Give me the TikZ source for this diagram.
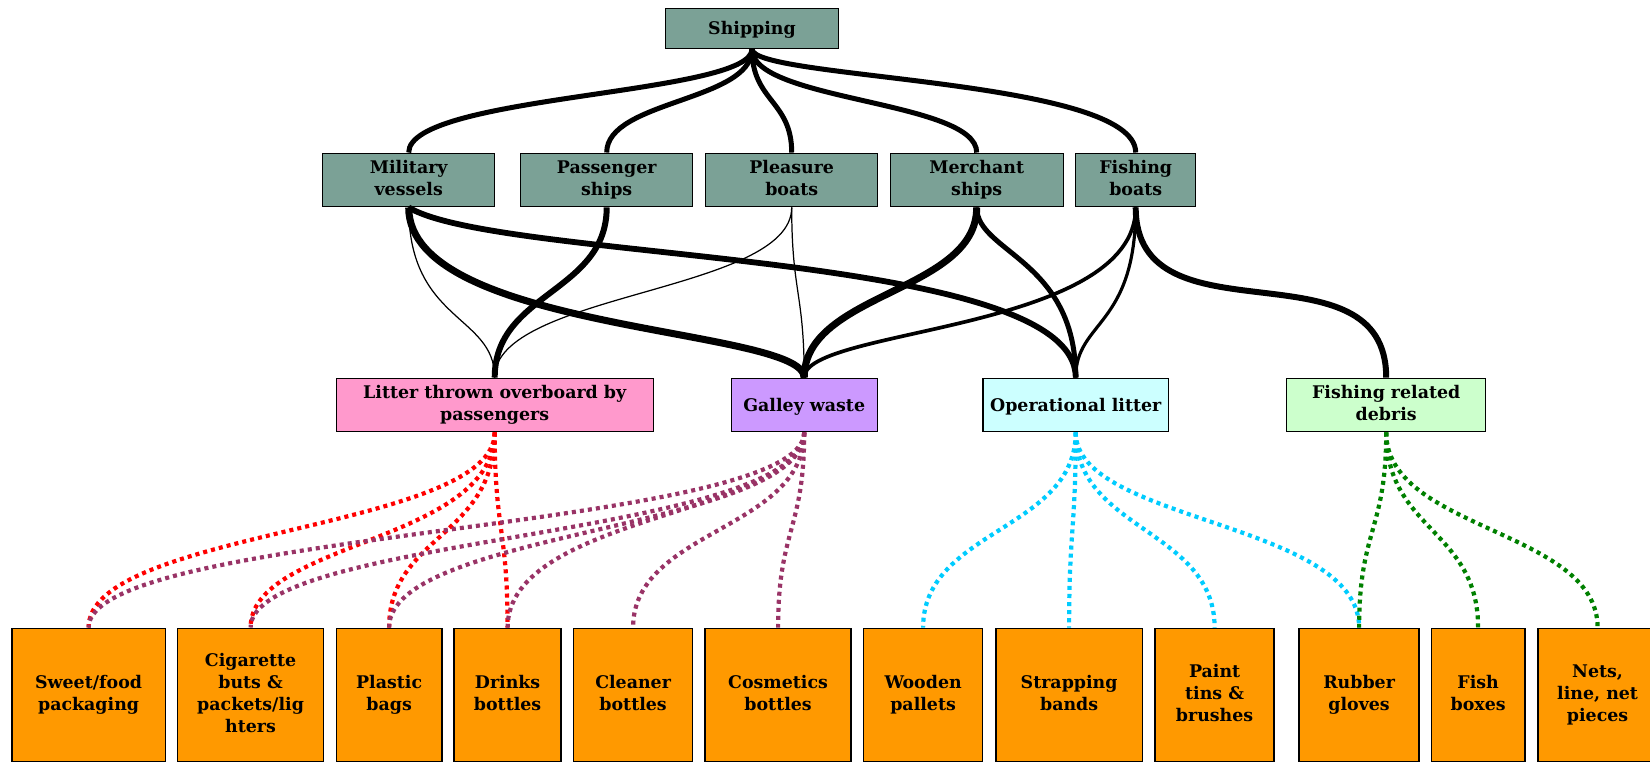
\documentclass[tikz,border=0pt]{standalone}
\usepackage{fontspec}
\setmainfont{DejaVu Serif}
\usepackage{tikz}
\newcommand{\boxfont}{\fontsize{9.9}{12.5}\selectfont\bfseries}
\definecolor{vesselgreen}{RGB}{123,161,150}
\definecolor{litterpink}{RGB}{255,153,204}
\definecolor{galleyviolet}{RGB}{204,153,255}
\definecolor{opcyan}{RGB}{204,255,255}
\definecolor{debrisgreen}{RGB}{204,255,204}
\definecolor{itemorange}{RGB}{255,153,0}
\definecolor{plum}{RGB}{153,51,102}
\definecolor{skyblue}{RGB}{0,204,255}
\definecolor{netgreen}{RGB}{0,128,0}
\tikzstyle{boxtext} = [text centered, align=center, font=\boxfont, execute at begin node={\rule{0pt}{9.5pt}}, execute at end node={\rule[-2.3pt]{0pt}{2.3pt}}]
\tikzstyle{vessel} = [rectangle, minimum width=3.44cm, minimum height=1.07cm, boxtext, draw=black, line width=0.8pt, fill=vesselgreen]
\tikzstyle{source} = [rectangle, minimum height=1.07cm, boxtext, draw=black, line width=0.8pt]
\tikzstyle{item} = [rectangle, minimum height=2.67cm, boxtext, draw=black, line width=0.8pt, fill=itemorange]
\tikzstyle{link} = [line width=2.85pt]
\tikzstyle{thinlink} = [line width=0.7pt]
\tikzstyle{litter} = [line width=2.4pt, dash pattern=on 2.3pt off 2.3pt]

\begin{document}
\begin{tikzpicture}
    \useasboundingbox (0,0) rectangle (33,15.24);

        \node (ship) [vessel, minimum width=3.46cm, minimum height=0.8cm] at (15.04,14.67) {Shipping};

        \node (mil) [vessel] at (8.174,11.64) {Military\\vessels};
        \node (pas) [vessel, right of=mil, node distance=3.96cm] {Passenger\\ships};
        \node (ple) [vessel, right of=pas, node distance=3.70cm] {Pleasure\\boats};
        \node (mer) [vessel, right of=ple, node distance=3.70cm, minimum width=3.46cm] {Merchant\\ships};
        \node (fis) [vessel, right of=mer, node distance=3.18cm, minimum width=2.40cm] {Fishing\\boats};

        \node (lit) [source, fill=litterpink, minimum width=6.34cm] at (9.894,7.14) {Litter thrown overboard by\\passengers};
        \node (gal) [source, fill=galleyviolet, minimum width=2.92cm, right of=lit, node distance=6.19cm] {Galley waste};
        \node (ope) [source, fill=opcyan, minimum width=3.71cm, right of=gal, node distance=5.43cm] {Operational litter};
        \node (frd) [source, fill=debrisgreen, minimum width=3.98cm, right of=ope, node distance=6.21cm] {Fishing related\\debris};

        \node (swe) [item, minimum width=3.07cm] at (1.772,1.34) {Sweet/food\\packaging};
        \node (cig) [item, minimum width=2.92cm, right of=swe, node distance=3.24cm] {Cigarette\\buts \&\\packets/lig\\hters};
        \node (pla) [item, minimum width=2.11cm, right of=cig, node distance=2.77cm] {Plastic\\bags};
        \node (dri) [item, minimum width=2.14cm, right of=pla, node distance=2.37cm] {Drinks\\bottles};
        \node (cle) [item, minimum width=2.38cm, right of=dri, node distance=2.51cm] {Cleaner\\bottles};
        \node (cos) [item, minimum width=2.92cm, right of=cle, node distance=2.90cm] {Cosmetics\\bottles};
        \node (woo) [item, minimum width=2.38cm, right of=cos, node distance=2.90cm] {Wooden\\pallets};
        \node (str) [item, minimum width=2.93cm, right of=woo, node distance=2.92cm] {Strapping\\bands};
        \node (pai) [item, minimum width=2.38cm, right of=str, node distance=2.91cm] {Paint\\tins \&\\brushes};
        \node (rub) [item, minimum width=2.40cm, right of=pai, node distance=2.89cm] {Rubber\\gloves};
        \node (fib) [item, minimum width=1.87cm, right of=rub, node distance=2.38cm] {Fish\\boxes};
        \node (net) [item, minimum width=2.39cm, right of=fib, node distance=2.39cm] {Nets,\\line, net\\pieces};

            % Add links from shipping to vessel types
        \draw [link] (ship.south) .. controls +(0,-0.92) and +(0,1.16) .. (mil.north);
        \draw [link] (ship.south) .. controls +(0,-1.04) and +(0,1.04) .. (pas.north);
        \draw [link] (ship.south) .. controls +(0,-1.04) and +(0,1.04) .. (ple.north);
        \draw [link] (ship.south) .. controls +(0,-1.04) and +(0,1.04) .. (mer.north);
        \draw [link] (ship.south) .. controls +(0,-0.60) and +(0,1.48) .. (fis.north);

            % Add links from vessel types to litter sources
        \draw [thinlink] (mil.south) .. controls +(0,-2.30) and +(0,1.26) .. (lit.north);
        \draw [link, line width=4pt] (mil.south) .. controls +(0,-2.5) and +(0,1.0) .. (gal.north);
        \draw [link, line width=3.3pt] (mil.south) .. controls +(1.82,-1.10) and +(0,2.56) .. (ope.north);
        \draw [link, line width=3.4pt] (pas.south) .. controls +(0,-1.7) and +(0,1.7) .. (lit.north);
        \draw [thinlink] (ple.south) .. controls +(0,-1.7) and +(0,1.7) .. (lit.north);
        \draw [thinlink] (ple.south) .. controls +(0,-1.7) and +(0,1.7) .. (gal.north);
        \draw [link, line width=4pt] (mer.south) .. controls +(0,-1.7) and +(0,1.7) .. (gal.north);
        \draw [link] (mer.south) .. controls +(0,-0.9) and +(0,2.36) .. (ope.north);
        \draw [link, line width=2.1pt] (fis.south) .. controls +(0,-2.5) and +(0,1.0) .. (gal.north);
        \draw [link, line width=1.8pt] (fis.south) .. controls +(0,-2.4) and +(0,1.14) .. (ope.north);
        \draw [link, line width=3.4pt] (fis.south) .. controls +(0,-2.8) and +(0,2.8) .. (frd.north);

            % Add dotted links from litter sources to items
        \draw [litter, red] (lit.south) .. controls +(0,-1.96) and +(0,1.96) .. (swe.north);
        \draw [litter, red] (lit.south) .. controls +(0,-2.2) and +(0,1.72) .. (cig.north);
        \draw [litter, red] (lit.south) .. controls +(0,-2.1) and +(0,1.84) .. (pla.north);
        \draw [litter, red] (lit.south) .. controls +(0,-1.96) and +(0,1.96) .. (dri.north);
        \draw [litter, plum] (gal.south) .. controls +(0,-1.96) and +(0,1.96) .. (swe.north);
        \draw [litter, plum] (gal.south) .. controls +(0,-2.1) and +(0,1.84) .. (cig.north);
        \draw [litter, plum] (gal.south) .. controls +(0,-1.96) and +(0,1.96) .. (pla.north);
        \draw [litter, plum] (gal.south) .. controls +(0,-1.64) and +(0,2.28) .. (dri.north);
        \draw [litter, plum] (gal.south) .. controls +(0,-1.96) and +(0,1.96) .. (cle.north);
        \draw [litter, plum] (gal.south) .. controls +(0,-1.96) and +(0,1.96) .. (cos.north);
        \draw [litter, skyblue] (ope.south) .. controls +(0,-1.96) and +(0,1.96) .. (woo.north);
        \draw [litter, skyblue] (ope.south) .. controls +(0,-1.96) and +(0,1.96) .. (str.north);
        \draw [litter, skyblue] (ope.south) .. controls +(0,-1.96) and +(0,1.96) .. (pai.north);
        \draw [litter, skyblue] (ope.south) .. controls +(0,-1.8) and +(0,2.12) .. (rub.north);
        \draw [litter, netgreen] (frd.south) .. controls +(0,-1.96) and +(0,1.96) .. (rub.north);
        \draw [litter, netgreen] (frd.south) .. controls +(0,-1.96) and +(0,1.96) .. (fib.north);
        \draw [litter, netgreen] (frd.south) .. controls +(0,-1.96) and +(0,1.96) .. (net.north);
    \end{tikzpicture}
\end{document}
